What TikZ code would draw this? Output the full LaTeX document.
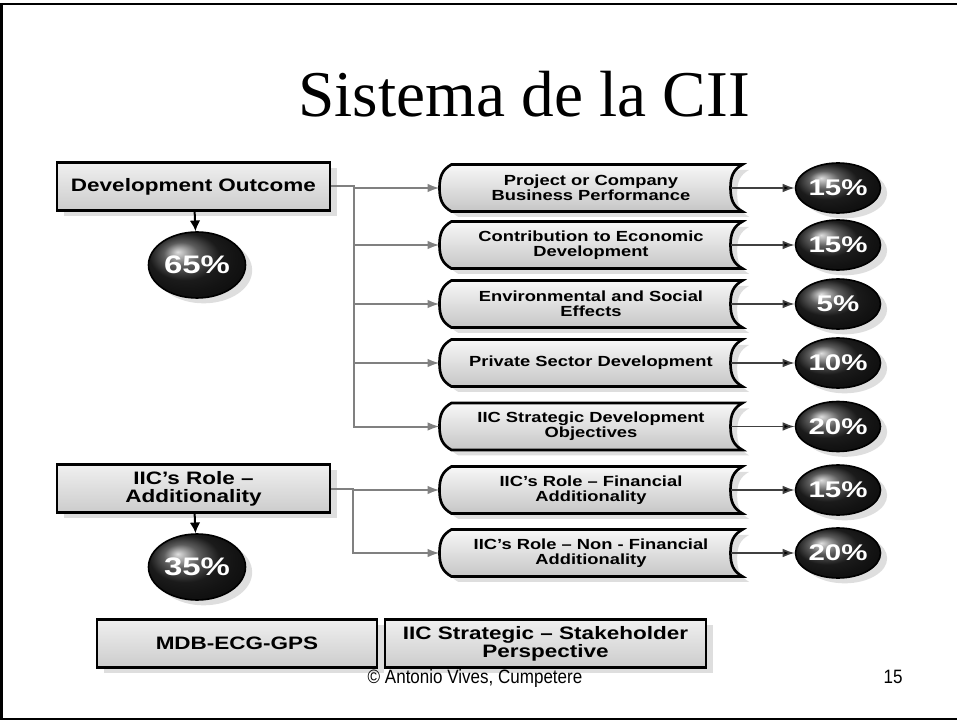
\documentclass[tikz,border=0pt]{standalone}
\usepackage{fontspec}
\setmainfont{Liberation Serif}
\newfontfamily\boxfont[FakeStretch=1.25]{Liberation Sans}
\newfontfamily\pctfont[FakeStretch=1.3]{Liberation Sans}
\newfontfamily\footfont[FakeStretch=0.88]{Liberation Sans}
\usetikzlibrary{arrows.meta,shapes.geometric,shadows,calc,backgrounds}

\tikzset{every picture/.style={line width=0.75pt}}
\tikzset{
  boxshadow/.style={drop shadow={shadow xshift=5pt, shadow yshift=-4pt, opacity=1, fill=black!13}},
  rolebox/.style={draw=black, line width=2.2pt, top color=gray!12, bottom color=gray!40,
    minimum height=36pt, inner sep=0.75pt, align=center, boxshadow,
    font=\boxfont\bfseries\fontsize{13.5}{13.5}\selectfont},
  scrollbox/.style={minimum width=226.5pt, minimum height=34.5pt, inner sep=0.75pt, align=center,
    font=\boxfont\bfseries\fontsize{11}{11}\selectfont},
  scrollline/.style={draw=black, line width=2pt, top color=gray!6, bottom color=gray!45, boxshadow},
  pct/.style={ellipse, draw=black, line width=1.2pt, ball color=black!85, text=white, inner sep=0pt,
    boxshadow, font=\pctfont\bfseries\fontsize{17}{17}\selectfont},
  bigpct/.style={pct, minimum width=72.75pt, minimum height=49.5pt,
    font=\pctfont\bfseries\fontsize{19}{19}\selectfont},
  smallpct/.style={pct, minimum width=63.75pt, minimum height=37.5pt},
  feed/.style={draw=black!50, line width=1.5pt, -{Latex[length=9pt,width=6.5pt]}},
  down/.style={draw=black, line width=1.5pt, -{Latex[length=8pt,width=8pt]}},
  score/.style={draw=black!75, line width=1.2pt, -{Latex[length=9pt,width=6.5pt,fill=black]}}
}

\begin{document}
\begin{tikzpicture}[x=0.75pt,y=0.75pt,yscale=-1,xscale=1]
    \useasboundingbox (0,0) rectangle (957,720);
    %Slide frame (right side falls off the page)
    \draw[line width=1.5pt] (1.5,4) rectangle (960,718.5);
    % Text Node
    \draw (524,117) node [anchor=base][inner sep=0.75pt] [font=\fontsize{49}{49}\selectfont] (title) {Sistema de la CII};

    %Left boxes
    \draw (193.5,186.5) node [rolebox, minimum width=204.75pt] (dev) {Development Outcome};
    \draw (193.5,488.5) node [rolebox, minimum width=204.75pt] (role) {IIC’s Role –\\Additionality};
    \draw (197,265) node [bigpct] (p65) {65\%};
    \draw (197,567) node [bigpct] (p35) {35\%};

    %Scroll boxes
    \draw (591,188) node [scrollbox] (bp) {Project or Company\\Business Performance};
    \draw (591,245) node [scrollbox] (ce) {Contribution to Economic\\Development};
    \draw (591,304) node [scrollbox] (es) {Environmental and Social\\Effects};
    \draw (591,363) node [scrollbox] (ps) {Private Sector Development};
    \draw (591,426.5) node [scrollbox] (sd) {IIC Strategic Development\\Objectives};
    \draw (591,490) node [scrollbox] (fa) {IIC’s Role – Financial\\Additionality};
    \draw (591,553) node [scrollbox] (nf) {IIC’s Role – Non - Financial\\Additionality};
    \begin{scope}[on background layer]
    \foreach \s in {bp,ce,es,ps,sd,fa,nf}{
      \path[scrollline] ($(\s.north west)+(12,0)$) -- (\s.north east)
        .. controls +(-9,5) and +(0,-12) .. ($(\s.east)+(-12,0)$)
        .. controls +(0,12) and +(-9,-5) .. (\s.south east)
        -- ($(\s.south west)+(12,0)$)
        .. controls +(-9,-5) and +(0,12) .. (\s.west)
        .. controls +(0,-12) and +(-9,5) .. ($(\s.north west)+(12,0)$) -- cycle;
    }
    \end{scope}

    %Score ellipses
    \draw (838,188) node [smallpct] (s1) {15\%};
    \draw (838,245) node [smallpct] (s2) {15\%};
    \draw (838,304) node [smallpct] (s3) {5\%};
    \draw (838,363) node [smallpct] (s4) {10\%};
    \draw (838,426.5) node [smallpct] (s5) {20\%};
    \draw (838,490) node [smallpct] (s6) {15\%};
    \draw (838,553) node [smallpct] (s7) {20\%};

    %Bottom boxes
    \draw (237,643.5) node [rolebox, minimum width=210pt] (mdb) {MDB-ECG-GPS};
    \draw (545.5,643.5) node [rolebox, minimum width=240.75pt] (stake) {IIC Strategic – Stakeholder\\Perspective};

    %Connectors
    \draw[down] (dev) -- (p65);
    \draw[down] (role) -- (p35);
    \draw[feed] (dev.east) -- ++(23,0) |- (bp.west);
    \foreach \s in {ce,es,ps,sd}{
      \draw[feed] (dev.east) ++(23,0) |- (\s.west);
    }
    \draw[feed] (role.east) -- ++(22,0) |- (fa.west);
    \draw[feed] (role.east) ++(22,0) |- (nf.west);
    \foreach \s/\c in {bp/s1,ce/s2,es/s3,ps/s4,sd/s5,fa/s6,nf/s7}{
      \draw[score] ($(\s.east)+(-12,0)$) -- (\c);
    }

    % Text Node
    \draw (475,683) node [anchor=base][inner sep=0.75pt] [font=\footfont\fontsize{14.5}{14.5}\selectfont] (copy) {© Antonio Vives, Cumpetere};
    % Text Node
    \draw (893,683) node [anchor=base][inner sep=0.75pt] [font=\footfont\fontsize{14.5}{14.5}\selectfont] (page) {15};
\end{tikzpicture}
\end{document}
